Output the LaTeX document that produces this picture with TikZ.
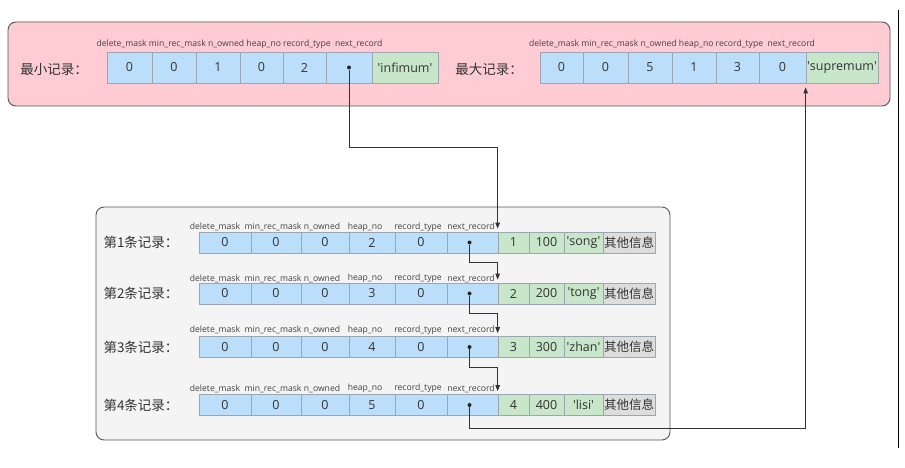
\documentclass[tikz,border=0pt]{standalone}
\usepackage{fontspec}
\setmainfont{Open Sans}
\newfontfamily\cjk{Noto Sans CJK SC}
\usetikzlibrary{arrows.meta}
\definecolor{pinkbg}{HTML}{FFCCD3}
\definecolor{bluecell}{HTML}{BBDEFB}
\definecolor{greencell}{HTML}{C8E6C9}
\definecolor{graycell}{HTML}{DDDDDD}
\definecolor{panelbg}{HTML}{F4F4F4}
\definecolor{cellline}{HTML}{9BA6B0}
\definecolor{edgeline}{HTML}{555555}
\newcommand\quoted[1]{\textquotesingle#1\textquotesingle}

\begin{document}
\begin{tikzpicture}[x=1pt, y=-1pt,
	panel/.style={draw=edgeline, line width=0.9pt, rounded corners=8pt},
	cell/.style={draw=cellline, line width=0.7pt, inner sep=0pt, text=black!80,
		font=\fontsize{12.5}{12.5}\selectfont},
	fieldcell/.style={cell, fill=bluecell},
	datacell/.style={cell, fill=greencell},
	infocell/.style={cell, fill=graycell, font=\cjk\fontsize{12.5}{13}\selectfont},
	head/.style={font=\fontsize{8.6}{9}\selectfont, text=black!75, inner sep=0pt},
	rowlabel/.style={font=\cjk\fontsize{13.5}{14}\selectfont, text=black!80},
	dot/.style={circle, fill=black!85, inner sep=0pt, minimum size=4pt},
	link/.style={draw=black!80, line width=1pt, -{Triangle[length=6pt,width=4.5pt]}}]
\useasboundingbox (0,0) rectangle (905,468);

% infimum / supremum
\draw[panel, fill=pinkbg] (8,22) rectangle (890,106);
\node[rowlabel] (min-label) at (54,69) {最小记录：};
\node[head] (min-head) at (239.5,44) {delete\_mask min\_rec\_mask n\_owned heap\_no record\_type\ \ next\_record};
\foreach \a/\b/\t [count=\i] in {107/152/0,152/196/0,196/240/1,240/283/0,283/326/2,326/372/{}}
	\node[fieldcell, minimum width={(\b-\a)*1pt}, minimum height=31pt] (min-\i) at ({(\a+\b)/2},67.5) {\t};
\node[datacell, minimum width=66pt, minimum height=31pt] (infimum) at (405,67.5) {\quoted{infimum}};
\node[dot] (min-dot) at (min-6.center) {};

\node[rowlabel] (max-label) at (489,69) {最大记录：};
\node[head] (max-head) at (672,44) {delete\_mask min\_rec\_mask n\_owned heap\_no record\_type\ \ next\_record};
\foreach \a/\b/\t [count=\i] in {540/583/0,583/628/0,628/672/5,672/716/1,716/759/3,759/806/0}
	\node[fieldcell, minimum width={(\b-\a)*1pt}, minimum height=31pt] (max-\i) at ({(\a+\b)/2},67.5) {\t};
\node[datacell, minimum width=72pt, minimum height=31pt] (supremum) at (842,67.5) {\quoted{supremum}};

% user records
\draw[panel, fill=panelbg] (96,207) rectangle (670,440);
\foreach \r/\y/\hy/\h/\id/\nm in {1/242.5/227/2/100/song, 2/293.5/278.5/3/200/tong,
		3/347/330/4/300/zhan, 4/405/388.5/5/400/lisi}{
	\node[rowlabel] (rec\r-label) at (141,\y) {第\r 条记录：};
	\foreach \a/\b/\hx/\hd/\v [count=\c] in {199/251/215/delete\_mask/0, 251/301/273/min\_rec\_mask/0,
			301/349/322/n\_owned/0, 349/395/365/heap\_no/\h, 395/447/418/record\_type/0, 447/498/471/next\_record/{}}{
		\node[fieldcell, minimum width={(\b-\a)*1pt}, minimum height=21pt] (rec\r-\c) at ({(\a+\b)/2},\y) {\v};
		\node[head] (rec\r-head\c) at (\hx,\hy) {\hd};
	}
	\node[datacell, minimum width=31pt, minimum height=21pt] (rec\r-n) at (513.5,\y) {\r};
	\node[datacell, minimum width=35pt, minimum height=21pt] (rec\r-id) at (546.5,\y) {\id};
	\node[datacell, minimum width=39pt, minimum height=21pt] (rec\r-name) at (583.5,\y) {\quoted{\nm}};
	\node[infocell, minimum width=52pt, minimum height=21pt] (rec\r-info) at (629,\y) {其他信息};
	\node[dot] (rec\r-dot) at ([xshift=-3pt]rec\r-6.center) {};
}

\draw[link] (min-dot) -- ++(0,80.5) -| ([yshift=3pt]rec1-n.north west);
\foreach \r/\s in {1/2,2/3,3/4}
	\draw[link] (rec\r-dot) -- ++(0,20) -| ([yshift=3pt]rec\s-n.north west);
\draw[link] (rec4-dot) -- ++(0,23) -| ([yshift=-4pt]supremum.south west);

\draw[line width=1pt] (898,10) -- (898,448);
\end{tikzpicture}
\end{document}
